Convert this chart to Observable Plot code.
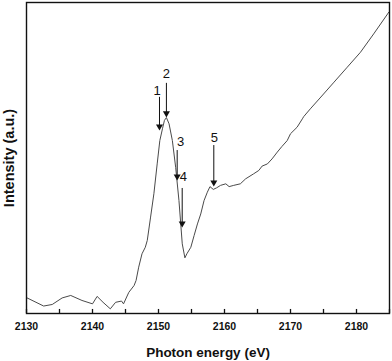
<!DOCTYPE html>
<html>
<head>
<meta charset="utf-8">
<script src="https://cdn.jsdelivr.net/npm/d3@7"></script>
<script src="https://cdn.jsdelivr.net/npm/@observablehq/plot@0.6"></script>
<style>
  html, body { margin: 0; padding: 0; background: #fff; }
  #chart svg { display: block; }
</style>
</head>
<body>
<div id="chart"></div>
<script>
// Photon energy (eV)
const energy = [2130.1, 2132.6, 2133.9, 2135.4, 2136.7, 2138.4, 2140.0, 2140.7, 2141.6, 2142.7,
  2143.5, 2144.4, 2144.7, 2145.5, 2146.3, 2146.6, 2147.0, 2147.5, 2148.0, 2148.3,
  2148.8, 2149.3, 2149.8, 2150.2, 2150.6, 2150.9, 2151.2, 2151.6, 2152.1, 2152.6,
  2153.1, 2153.6, 2154.0, 2154.3, 2154.9, 2155.4, 2155.9, 2156.4, 2156.9, 2157.4,
  2157.8, 2158.3, 2158.8, 2159.4, 2160.2, 2160.7, 2161.4, 2162.4, 2163.2, 2164.4,
  2165.2, 2165.7, 2166.5, 2167.2, 2168.0, 2168.7, 2169.5, 2170.0, 2171.0, 2171.8,
  2172.0, 2173.0, 2174.6, 2176.6, 2178.6, 2180.6, 2182.6, 2184.9];
// Intensity (a.u.)
const intensity = [5.0, 2.4, 2.9, 5.0, 5.8, 4.2, 3.1, 5.5, 3.6, 1.5,
  3.6, 4.0, 3.1, 6.8, 9.0, 10.6, 14.9, 19.2, 21.3, 23.5,
  31.0, 38.5, 48.1, 55.6, 59.4, 62.1, 63.0, 61.0, 55.6, 47.0,
  36.3, 22.4, 17.9, 19.2, 21.3, 25.1, 28.8, 32.0, 36.3, 39.0,
  40.8, 39.9, 40.4, 41.2, 41.7, 40.8, 41.2, 41.7, 43.3, 44.9,
  46.0, 47.4, 48.1, 49.7, 51.9, 53.7, 55.6, 57.8, 59.9, 62.6,
  63.3, 65.8, 69.6, 74.4, 79.2, 84.0, 89.9, 96.9];

// Peak markers: label, energy, arrow start / end intensity, label position
const markLabels = ["1", "2", "3", "4", "5"];
const markEnergy = [2150.15, 2151.2, 2152.83, 2153.59, 2158.38];
const markFrom = [69.5, 74.0, 52.4, 40.2, 54.0];
const markTo = [59.5, 63.7, 43.4, 28.3, 41.5];
const labelEnergy = [2149.8, 2151.2, 2153.35, 2153.75, 2158.48];
const labelIntensity = [71.7, 77.1, 55.1, 43.8, 56.5];

const majorTicks = [2130, 2140, 2150, 2160, 2170, 2180];
const minorTicks = [2130, 2135, 2140, 2145, 2150, 2155, 2160, 2165, 2170, 2175, 2180, 2185];

const spectrum = energy.map((e, i) => ({e, v: intensity[i]}));
const markers = markLabels.map((t, i) => ({
  t, x: markEnergy[i], y1: markFrom[i], y2: markTo[i], lx: labelEnergy[i], ly: labelIntensity[i]
}));

const font = "'Liberation Sans', Arial, Helvetica, sans-serif";

const chart = Plot.plot({
  width: 392,
  height: 361,
  marginLeft: 26,
  marginRight: 3,
  marginTop: 2,
  marginBottom: 48,
  style: {fontFamily: font, background: "#fff", color: "#111"},
  x: {domain: [2130, 2185]},
  y: {domain: [0, 100], axis: null},
  marks: [
    Plot.ruleX(minorTicks, {x: d => d, y1: 0, y2: 1.3, stroke: "#111", strokeWidth: 1.3}),
    Plot.axisX({ticks: majorTicks, tickSize: 0, tickPadding: 9.5, tickFormat: d => String(d),
      fontSize: 10.5, fontWeight: "bold", label: null}),
    Plot.line(spectrum, {x: "e", y: "v", stroke: "#4a4a4a", strokeWidth: 1}),
    Plot.ruleX(markers, {x: "x", y1: "y1", y2: "y2", stroke: "#111", strokeWidth: 1}),
    Plot.dot(markers, {x: "x", y: "y2", symbol: "triangle", rotate: 180, r: 2.6, fill: "#111", stroke: null, dy: -2}),
    Plot.text(markers, {x: "lx", y: "ly", text: "t", fontSize: 13, fill: "#111"}),
    Plot.text(["Photon energy (eV)"], {frameAnchor: "bottom", lineAnchor: "middle", textAnchor: "middle",
      dy: 38.7, fontSize: 13.5, fontWeight: "bold", fill: "#111"}),
    Plot.text(["Intensity (a.u.)"], {frameAnchor: "left", textAnchor: "middle", lineAnchor: "middle",
      rotate: -90, dx: -17.5, fontSize: 14.5, fontWeight: "bold", fill: "#111"}),
    Plot.frame({stroke: "#111", strokeWidth: 1.4})
  ]
});
document.getElementById("chart").appendChild(chart);
</script>
</body>
</html>
